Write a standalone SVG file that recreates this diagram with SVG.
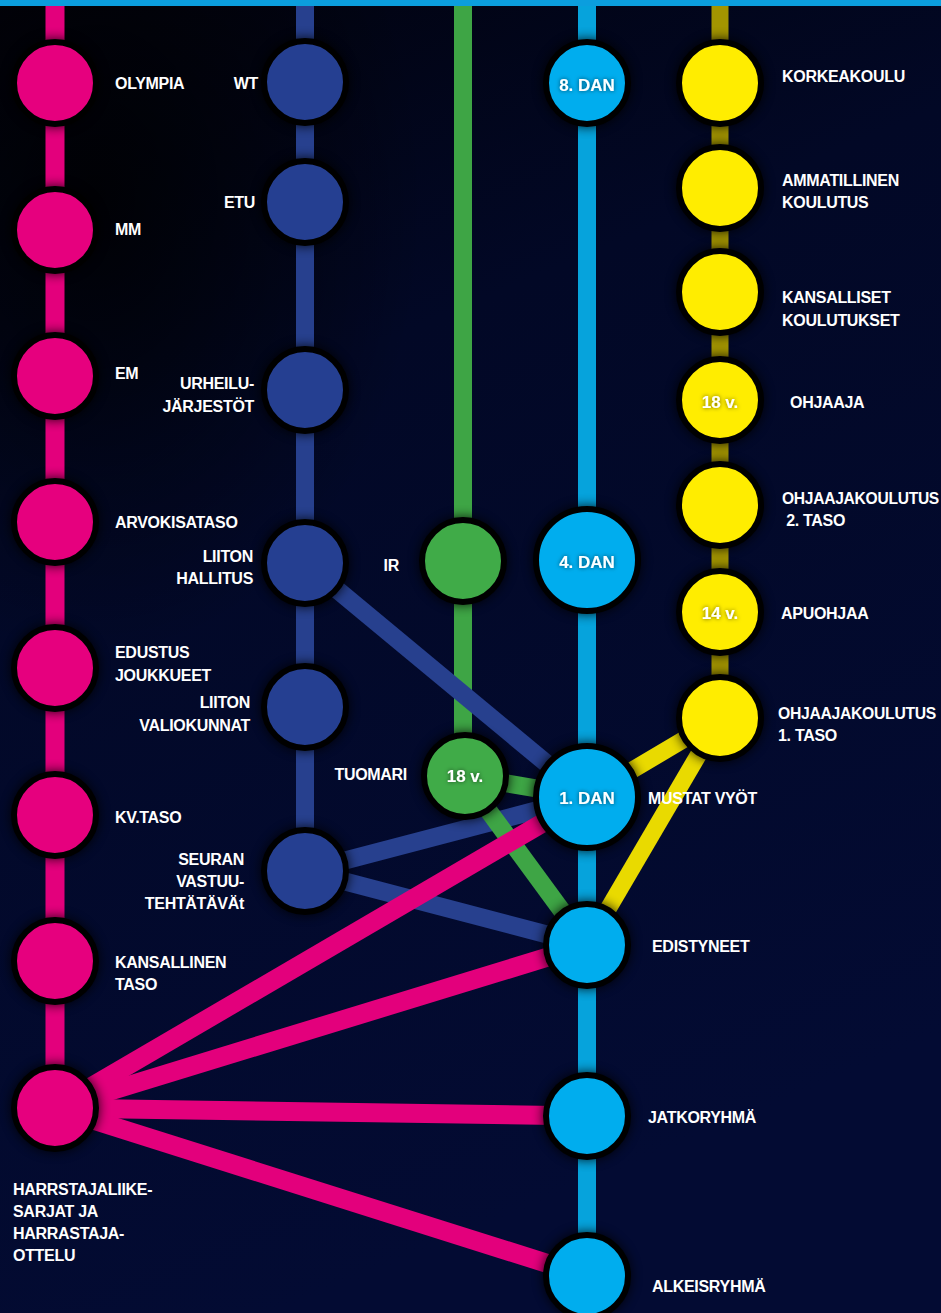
<svg xmlns="http://www.w3.org/2000/svg" width="941" height="1313" viewBox="0 0 941 1313">
<defs>
<linearGradient id="bg" x1="0" y1="0" x2="0.3" y2="1">
<stop offset="0" stop-color="#01020c"/>
<stop offset="0.35" stop-color="#020826"/>
<stop offset="1" stop-color="#030b33"/>
</linearGradient>
<radialGradient id="dark" cx="0.1" cy="0.15" r="0.35">
<stop offset="0" stop-color="#000000" stop-opacity="0.8"/>
<stop offset="1" stop-color="#000000" stop-opacity="0"/>
</radialGradient>
<filter id="sh" x="-50%" y="-50%" width="200%" height="200%">
<feGaussianBlur stdDeviation="6"/>
</filter>
<filter id="ts" x="-20%" y="-50%" width="140%" height="200%">
<feDropShadow dx="0" dy="0" stdDeviation="2" flood-color="#000" flood-opacity="0.6"/>
</filter>
</defs>
<style>
.lbl{font-family:"Liberation Sans",Arial,sans-serif;font-weight:bold;font-size:16px;letter-spacing:-0.3px;fill:#ffffff}
.in{font-family:"Liberation Sans",Arial,sans-serif;font-weight:bold;font-size:17px;fill:#ffffff;text-anchor:middle;filter:url(#ts)}
.r{text-anchor:end}
.ring{stroke:#000;stroke-width:6}
.shadow{fill:#000;opacity:0.85;filter:url(#sh)}
.pk{fill:#e6007e}.nv{fill:#253f91}.gr{fill:#40ab48}.cy{fill:#00adee}.ye{fill:#ffed00}
.lpk{stroke:#e3007c;stroke-width:19;fill:none}
.lnv{stroke:#27408e;stroke-width:18;fill:none}
.lgr{stroke:#3ea545;stroke-width:18;fill:none}
.lcy{stroke:#06a3dc;stroke-width:18;fill:none}
.lye{stroke:#a39500;stroke-width:17;fill:none}
.lye2{stroke:#e9da00;stroke-width:17;fill:none}
</style>
<rect width="941" height="1313" fill="url(#bg)"/>
<rect width="941" height="1313" fill="url(#dark)"/>
<rect width="941" height="6" fill="#0b9ede"/>

<g id="connectors">
<line class="lpk" x1="55" y1="6" x2="55" y2="1108"/>
<line class="lnv" x1="305" y1="6" x2="305" y2="871"/>
<line class="lgr" x1="463" y1="6" x2="463" y2="776"/>
<line class="lcy" x1="587" y1="6" x2="587" y2="1313"/>
<line class="lye" x1="720" y1="6" x2="720" y2="718"/>
<line class="lnv" x1="305" y1="563" x2="587" y2="797"/>
<line class="lnv" x1="305" y1="871" x2="587" y2="797"/>
<line class="lnv" x1="305" y1="871" x2="587" y2="945"/>
<line class="lgr" x1="463" y1="776" x2="587" y2="797"/>
<line class="lgr" x1="463" y1="776" x2="587" y2="945"/>
<line class="lye2" x1="720" y1="718" x2="587" y2="797"/>
<line class="lye2" x1="720" y1="718" x2="587" y2="945"/>
<line class="lpk" x1="55" y1="1108" x2="587" y2="797"/>
<line class="lpk" x1="55" y1="1108" x2="587" y2="945"/>
<line class="lpk" x1="55" y1="1108" x2="587" y2="1116"/>
<line class="lpk" x1="55" y1="1108" x2="587" y2="1276"/>
</g>

<g id="shadows">
<circle class="shadow" cx="55" cy="83" r="44"/><circle class="shadow" cx="55" cy="230" r="44"/><circle class="shadow" cx="55" cy="376" r="44"/><circle class="shadow" cx="55" cy="522" r="44"/><circle class="shadow" cx="55" cy="668" r="44"/><circle class="shadow" cx="55" cy="815" r="44"/><circle class="shadow" cx="55" cy="961" r="44"/><circle class="shadow" cx="55" cy="1108" r="44"/>
<circle class="shadow" cx="305" cy="82" r="44"/><circle class="shadow" cx="305" cy="202" r="44"/><circle class="shadow" cx="305" cy="390" r="44"/><circle class="shadow" cx="305" cy="563" r="44"/><circle class="shadow" cx="305" cy="707" r="44"/><circle class="shadow" cx="305" cy="871" r="44"/>
<circle class="shadow" cx="463" cy="561" r="44"/><circle class="shadow" cx="465" cy="776" r="44"/>
<circle class="shadow" cx="587" cy="83" r="44"/><circle class="shadow" cx="587" cy="560" r="54"/><circle class="shadow" cx="587" cy="797" r="54"/><circle class="shadow" cx="587" cy="945" r="44"/><circle class="shadow" cx="587" cy="1116" r="44"/><circle class="shadow" cx="587" cy="1276" r="44"/>
<circle class="shadow" cx="720" cy="83" r="44"/><circle class="shadow" cx="720" cy="188" r="44"/><circle class="shadow" cx="720" cy="292" r="44"/><circle class="shadow" cx="720" cy="400" r="44"/><circle class="shadow" cx="720" cy="505" r="44"/><circle class="shadow" cx="720" cy="612" r="44"/><circle class="shadow" cx="720" cy="718" r="44"/>
</g>

<g id="olympia"><circle class="pk ring" cx="55" cy="83" r="41"/><text class="lbl" x="115" y="89">OLYMPIA</text></g>
<g id="mm"><circle class="pk ring" cx="55" cy="230" r="41"/><text class="lbl" x="115" y="235">MM</text></g>
<g id="em"><circle class="pk ring" cx="55" cy="376" r="41"/><text class="lbl" x="115" y="379">EM</text></g>
<g id="arvokisataso"><circle class="pk ring" cx="55" cy="522" r="41"/><text class="lbl" x="115" y="528">ARVOKISATASO</text></g>
<g id="edustus"><circle class="pk ring" cx="55" cy="668" r="41"/><text class="lbl" x="115" y="658">EDUSTUS</text><text class="lbl" x="115" y="681">JOUKKUEET</text></g>
<g id="kvtaso"><circle class="pk ring" cx="55" cy="815" r="41"/><text class="lbl" x="115" y="823">KV.TASO</text></g>
<g id="kansallinen"><circle class="pk ring" cx="55" cy="961" r="41"/><text class="lbl" x="115" y="968">KANSALLINEN</text><text class="lbl" x="115" y="990">TASO</text></g>
<g id="harrastaja"><circle class="pk ring" cx="55" cy="1108" r="41"/><text class="lbl" x="13" y="1195">HARRSTAJALIIKE-</text><text class="lbl" x="13" y="1217">SARJAT JA</text><text class="lbl" x="13" y="1239">HARRASTAJA-</text><text class="lbl" x="13" y="1261">OTTELU</text></g>

<g id="wt"><circle class="nv ring" cx="305" cy="82" r="41"/><text class="lbl r" x="258" y="89">WT</text></g>
<g id="etu"><circle class="nv ring" cx="305" cy="202" r="41"/><text class="lbl r" x="255" y="208">ETU</text></g>
<g id="urheilujarjestot"><circle class="nv ring" cx="305" cy="390" r="41"/><text class="lbl r" x="254" y="389">URHEILU-</text><text class="lbl r" x="254" y="412">JÄRJESTÖT</text></g>
<g id="liitonhallitus"><circle class="nv ring" cx="305" cy="563" r="41"/><text class="lbl r" x="253" y="562">LIITON</text><text class="lbl r" x="253" y="584">HALLITUS</text></g>
<g id="valiokunnat"><circle class="nv ring" cx="305" cy="707" r="41"/><text class="lbl r" x="250" y="708">LIITON</text><text class="lbl r" x="250" y="731">VALIOKUNNAT</text></g>
<g id="seuran"><circle class="nv ring" cx="305" cy="871" r="41"/><text class="lbl r" x="244" y="865">SEURAN</text><text class="lbl r" x="244" y="887">VASTUU-</text><text class="lbl r" x="244" y="909">TEHTÄTÄVÄt</text></g>

<g id="ir"><circle class="gr ring" cx="463" cy="561" r="41"/><text class="lbl r" x="399" y="571">IR</text></g>
<g id="tuomari"><circle class="gr ring" cx="465" cy="776" r="41"/><text class="in" x="465" y="782">18 v.</text><text class="lbl r" x="407" y="780">TUOMARI</text></g>

<g id="dan8"><circle class="cy ring" cx="587" cy="83" r="41"/><text class="in" x="587" y="91">8. DAN</text></g>
<g id="dan4"><circle class="cy ring" cx="587" cy="560" r="51"/><text class="in" x="587" y="568">4. DAN</text></g>
<g id="dan1"><circle class="cy ring" cx="587" cy="797" r="51"/><text class="in" x="587" y="804">1. DAN</text><text class="lbl" x="648" y="804">MUSTAT VYÖT</text></g>
<g id="edistyneet"><circle class="cy ring" cx="587" cy="945" r="41"/><text class="lbl" x="652" y="952">EDISTYNEET</text></g>
<g id="jatkoryhma"><circle class="cy ring" cx="587" cy="1116" r="41"/><text class="lbl" x="648" y="1123">JATKORYHMÄ</text></g>
<g id="alkeisryhma"><circle class="cy ring" cx="587" cy="1276" r="41"/><text class="lbl" x="652" y="1292">ALKEISRYHMÄ</text></g>

<g id="korkeakoulu"><circle class="ye ring" cx="720" cy="83" r="41"/><text class="lbl" x="782" y="82">KORKEAKOULU</text></g>
<g id="ammatillinen"><circle class="ye ring" cx="720" cy="188" r="41"/><text class="lbl" x="782" y="186">AMMATILLINEN</text><text class="lbl" x="782" y="208">KOULUTUS</text></g>
<g id="kansalliset"><circle class="ye ring" cx="720" cy="292" r="41"/><text class="lbl" x="782" y="303">KANSALLISET</text><text class="lbl" x="782" y="326">KOULUTUKSET</text></g>
<g id="ohjaaja"><circle class="ye ring" cx="720" cy="400" r="41"/><text class="in" x="720" y="408">18 v.</text><text class="lbl" x="790" y="408">OHJAAJA</text></g>
<g id="ohjaajakoulutus2"><circle class="ye ring" cx="720" cy="505" r="41"/><text class="lbl" x="782" y="504" textLength="157" lengthAdjust="spacingAndGlyphs">OHJAAJAKOULUTUS</text><text class="lbl" x="782" y="526" xml:space="preserve"> 2. TASO</text></g>
<g id="apuohjaa"><circle class="ye ring" cx="720" cy="612" r="41"/><text class="in" x="720" y="619">14 v.</text><text class="lbl" x="781" y="619">APUOHJAA</text></g>
<g id="ohjaajakoulutus1"><circle class="ye ring" cx="720" cy="718" r="41"/><text class="lbl" x="778" y="719" textLength="158" lengthAdjust="spacingAndGlyphs">OHJAAJAKOULUTUS</text><text class="lbl" x="778" y="741">1. TASO</text></g>
</svg>
